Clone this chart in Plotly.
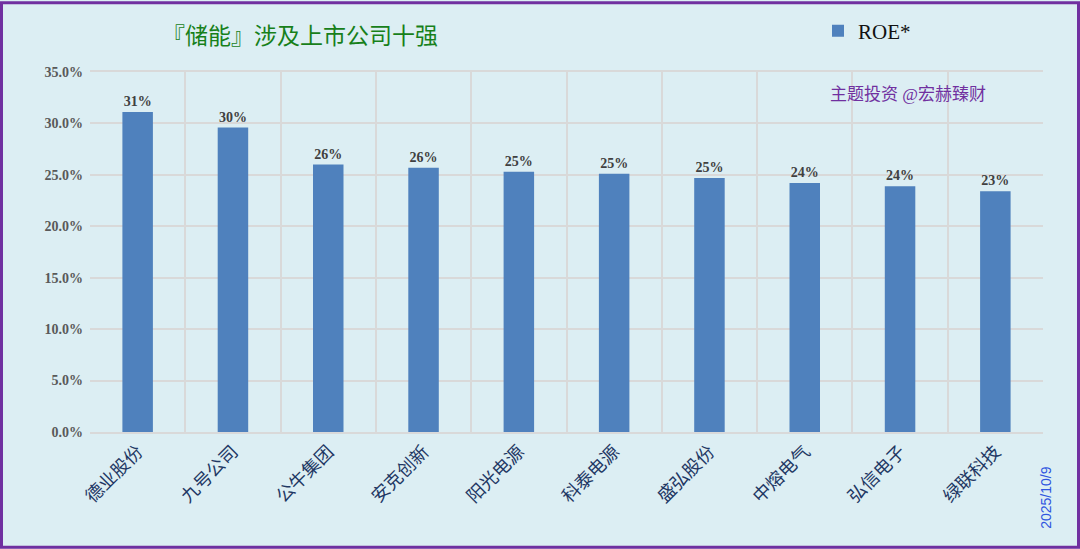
import plotly.graph_objects as go

companies = ["德业股份", "九号公司", "公牛集团", "安克创新", "阳光电源",
             "科泰电源", "盛弘股份", "中熔电气", "弘信电子", "绿联科技"]
roe = [0.311, 0.296, 0.260, 0.257, 0.253, 0.251, 0.247, 0.242, 0.239, 0.234]
y_ticks = [0, 0.05, 0.10, 0.15, 0.20, 0.25, 0.30, 0.35]
y_tick_text = ["0.0%", "5.0%", "10.0%", "15.0%", "20.0%", "25.0%", "30.0%", "35.0%"]

W, H = 1080, 549
L, R, T, B = 90, 37, 71, 117
pw, ph = W - L - R, H - T - B

serif = "Liberation Serif, Times New Roman, Noto Sans CJK SC, serif"
serif_cjk = "Liberation Serif, Noto Sans CJK SC, serif"

fig = go.Figure()
fig.add_trace(go.Bar(
    x=companies, y=roe, name="ROE*",
    marker=dict(color="#4F81BD", line=dict(color="#4F81BD", width=0)),
    texttemplate="<b>%{y:.0%}</b>", textposition="outside",
    textfont=dict(family=serif, size=14, color="#404040"),
    cliponaxis=False,
))

fig.update_layout(
    width=W, height=H,
    margin=dict(l=L, r=R, t=T, b=B),
    paper_bgcolor="#DCEEF3", plot_bgcolor="#DCEEF3",
    bargap=0.68,
    showlegend=True,
    legend=dict(x=(818 - L) / pw, y=1 + (T - 31) / ph, xanchor="left", yanchor="middle",
                font=dict(family=serif, size=21, color="#111111"),
                bgcolor="rgba(0,0,0,0)", itemwidth=30),
    font=dict(family=serif_cjk),
)

fig.update_xaxes(
    tickson="boundaries", showgrid=True, gridcolor="#D9D9D9", gridwidth=2,
    showline=True, linecolor="#D9D9D9", linewidth=2, mirror=True,
    tickangle=-45, ticks="",
    tickfont=dict(family=serif_cjk, size=18, color="#1F3864"),
)
fig.update_yaxes(
    range=[0, 0.35], tickvals=y_ticks, ticktext=y_tick_text,
    showgrid=True, gridcolor="#D9D9D9", gridwidth=2, zeroline=False,
    tickfont=dict(family=serif, size=14, color="#595959", weight="bold"),
    ticks="", ticklabelstandoff=6,
)

# title
fig.add_annotation(text="『储能』涉及上市公司十强", xref="paper", yref="paper",
                   x=(300 - L) / pw, y=1 + (T - 35) / ph, xanchor="center", yanchor="middle",
                   showarrow=False, font=dict(family=serif_cjk, size=23, color="#17801A"))
# watermark
fig.add_annotation(text="主题投资 @宏赫臻财", xref="paper", yref="paper",
                   x=(908 - L) / pw, y=1 - (94 - T) / ph, xanchor="center", yanchor="middle",
                   showarrow=False, font=dict(family=serif_cjk, size=17, color="#7030A0"))
# date
fig.add_annotation(text="2025/10/9", xref="paper", yref="paper",
                   x=(1046 - L) / pw, y=-(498 - (T + ph)) / ph, xanchor="center", yanchor="middle",
                   textangle=-90,
                   showarrow=False, font=dict(family="Liberation Sans, sans-serif", size=14, color="#2F55E0"))
# border
fig.add_shape(type="rect", xref="paper", yref="paper",
              x0=(1.5 - L) / pw, x1=(W - 1.5 - L) / pw,
              y0=-(H - 1.5 - T - ph) / ph, y1=1 + (T - 1.5) / ph,
              line=dict(color="#7030A0", width=3), fillcolor="rgba(0,0,0,0)", layer="above")

fig.write_html("out.html", config={"displayModeBar": False},
               post_script="document.body.style.margin='0';document.body.style.overflow='hidden';")
